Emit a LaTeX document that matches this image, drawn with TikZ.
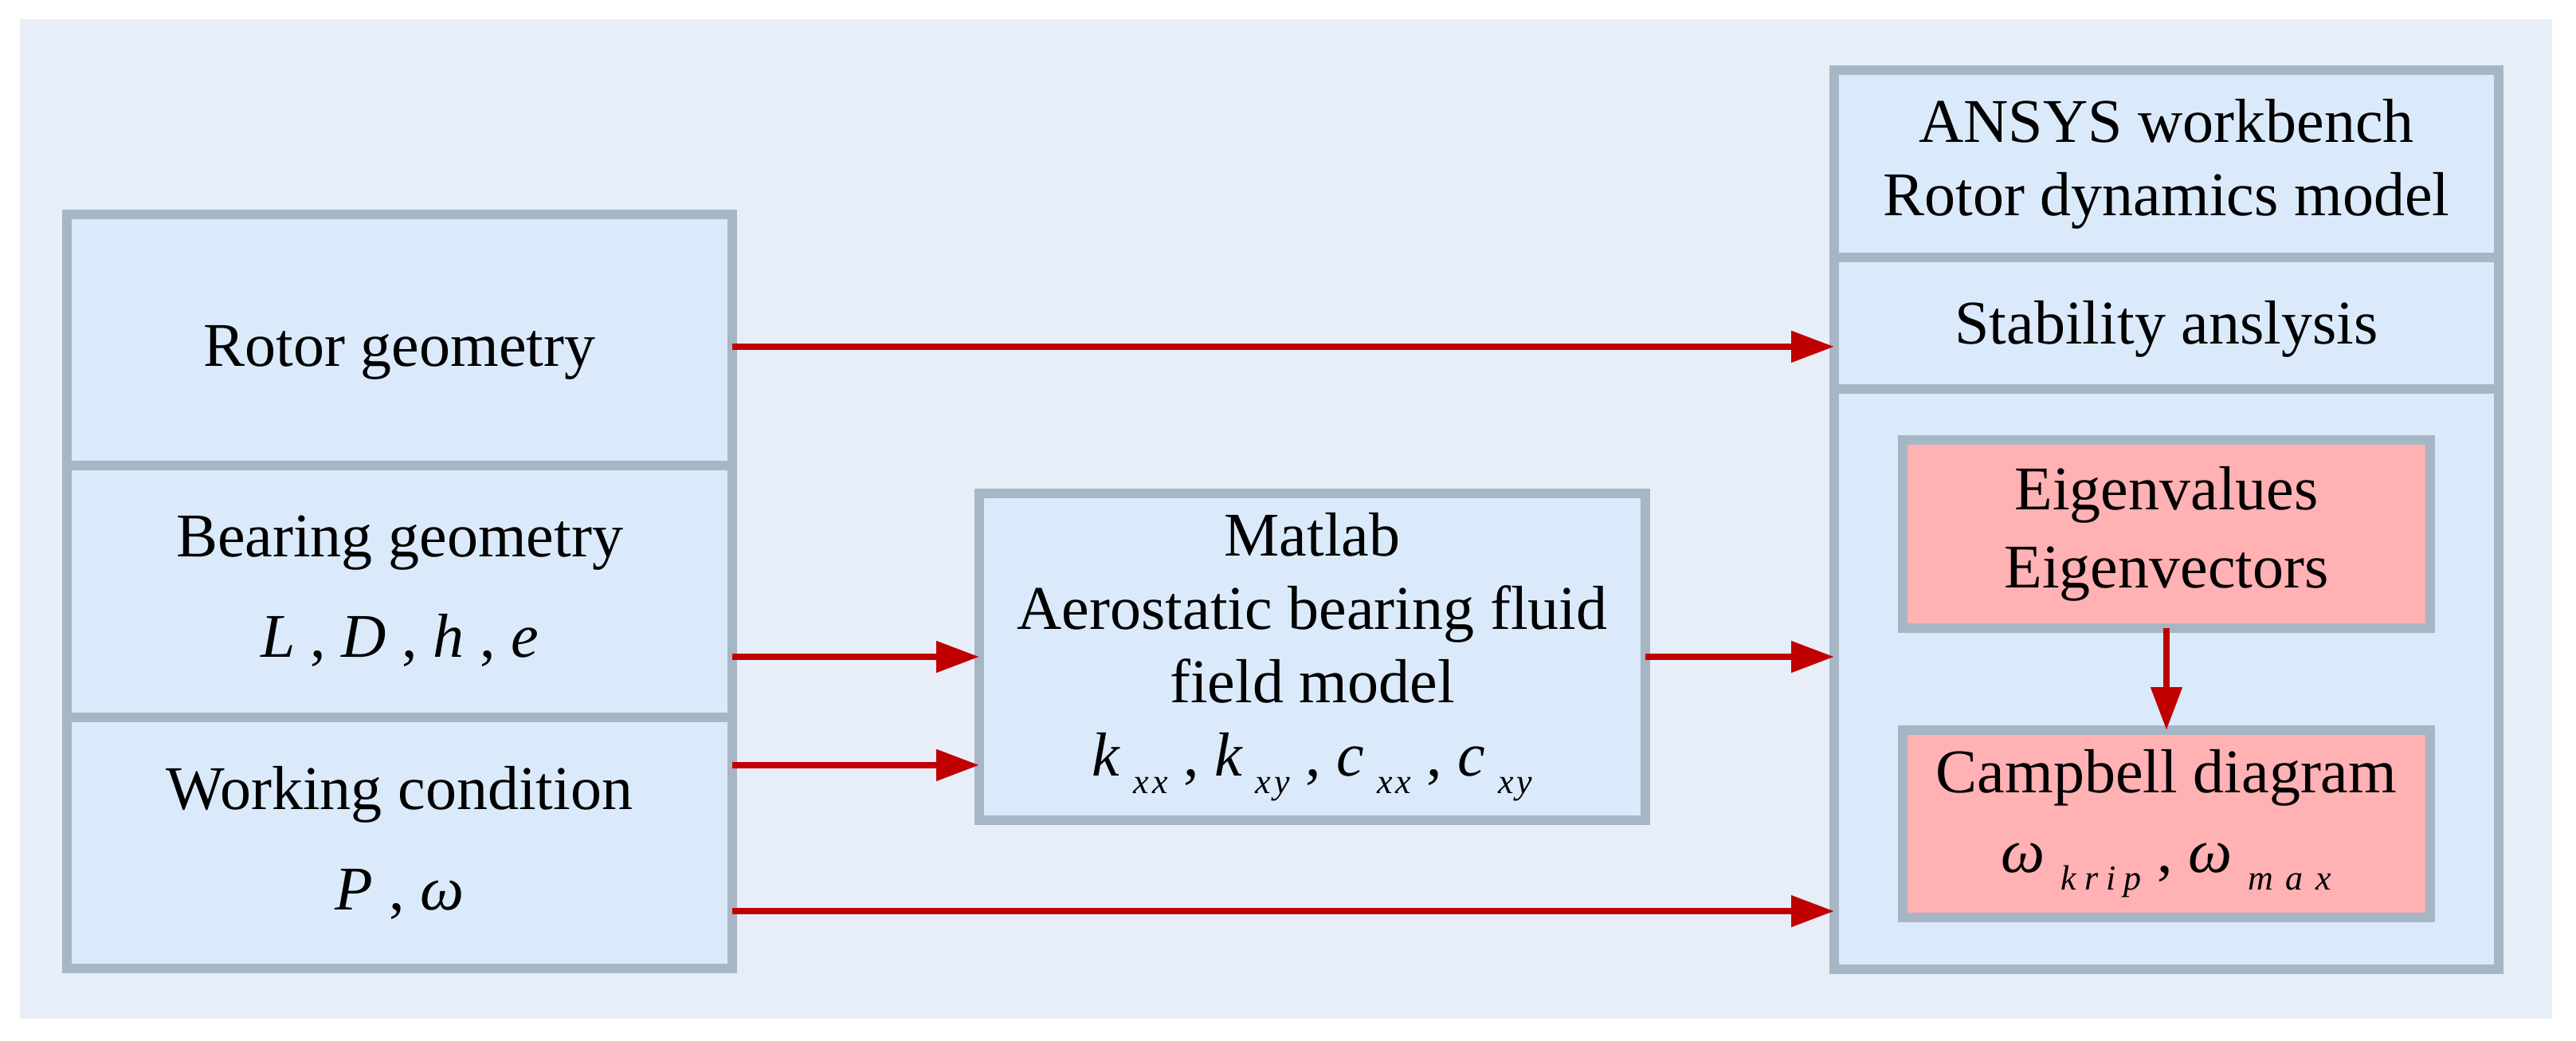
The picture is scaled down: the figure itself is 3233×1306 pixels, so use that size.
\documentclass[tikz,border=0pt]{standalone}
\usepackage{fontspec}
\setmainfont{Liberation Serif}
\newfontfamily\tnr{Liberation Serif}
\usetikzlibrary{arrows.meta}
\definecolor{bgc}{HTML}{E7EEF8}
\definecolor{boxc}{HTML}{DBEAFA}
\definecolor{brd}{HTML}{A7B6C5}
\definecolor{pinkc}{HTML}{FFB1B4}
\definecolor{arrc}{HTML}{C00000}
\newcommand{\sbx}[1]{\raisebox{-5.5pt}{\fontsize{11}{11}\selectfont\itshape #1}}
\begin{document}
\begin{tikzpicture}[x=0.25pt,y=-0.25pt,
  sec/.style={draw=brd,fill=boxc,line width=3pt,rectangle,inner sep=0pt,outer sep=0pt,
    align=center,font=\tnr\fontsize{19.5}{23}\selectfont},
  pinkbox/.style={sec,fill=pinkc},
  arr/.style={draw=arrc,line width=2pt,-{Triangle[length=13.5pt,width=9.5pt]}}]
\useasboundingbox (0,0) rectangle (3233,1306);
\fill[bgc] (25,24) rectangle (3203,1278);
% left column
\node[sec,minimum width=208.75pt,minimum height=78.75pt] (rotor) at (501.5,426.5) {\raisebox{-8.3pt}[0pt][0pt]{Rotor geometry}};
\node[sec,minimum width=208.75pt,minimum height=79pt] (bearing) at (501.5,742) {Bearing geometry\\[8.5pt]\textit{L} , \textit{D} , \textit{h} , \textit{e}};
\node[sec,minimum width=208.75pt,minimum height=78.75pt] (work) at (501.5,1057.5) {Working condition\\[8.5pt]\textit{P} , \textit{ω}};
% middle
\node[sec,minimum width=209pt,minimum height=102.5pt] (mid) at (1647,824) {Matlab\\Aerostatic bearing fluid\\field model\\\textit{k}\hspace{4pt}\sbx{x\kern1pt x} , \textit{k}\hspace{4pt}\sbx{x\kern1pt y} , \textit{c}\hspace{4pt}\sbx{x\kern1pt x} , \textit{c}\hspace{4pt}\sbx{x\kern1pt y}};
% right column
\node[sec,minimum width=208.5pt,minimum height=58.75pt] (ansys) at (2719,205.5) {ANSYS workbench\\Rotor dynamics model};
\node[sec,minimum width=208.5pt,minimum height=41.25pt] (stab) at (2719,405.5) {\raisebox{-6.5pt}[0pt][0pt]{Stability anslysis}};
\node[sec,minimum width=208.5pt,minimum height=182pt] (ana) at (2719,852) {};
\node[pinkbox,minimum width=165.5pt,minimum height=59pt] (eig) at (2719,670) {Eigenvalues\\[1.5pt]Eigenvectors};
\node[pinkbox,minimum width=165.5pt,minimum height=58.75pt] (camp) at (2719,1033.5) {Campbell diagram\\[2pt]\textit{ω}\hspace{5pt}\sbx{k\hspace{2.5pt}r\hspace{2.5pt}i\hspace{2.5pt}p} , \textit{ω}\hspace{5pt}\sbx{m\hspace{4pt}a\hspace{4pt}x}};
% connectors
\coordinate (r1) at ([yshift=-2.1pt]rotor.east);
\coordinate (b1) at (bearing.east |- mid.west);
\coordinate (w1) at ([yshift=24.4pt]work.east);
\coordinate (w2) at ([yshift=-21.4pt]work.east);
\draw[arr] (r1) -- (r1 -| stab.west);
\draw[arr] (b1) -- (mid.west);
\draw[arr] (w1) -- (w1 -| mid.west);
\draw[arr] (w2) -- (w2 -| ana.west);
\draw[arr] (mid.east) -- (mid.east -| ana.west);
\draw[arr] (eig.south) -- (camp.north);
\end{tikzpicture}
\end{document}
